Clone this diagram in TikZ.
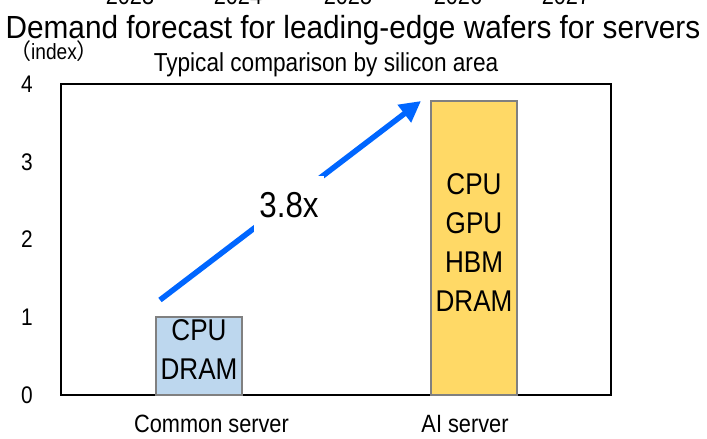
\documentclass[tikz,border=0pt]{standalone}
\usepackage{fontspec}
\setmainfont{Liberation Sans}[FakeStretch=0.87]
\newfontfamily\titlefont{Liberation Sans}[FakeStretch=0.93]
\newfontfamily\cjk{Noto Sans CJK JP}
\usetikzlibrary{arrows.meta}
\definecolor{arrowblue}{RGB}{0,102,255}
\definecolor{barblue}{RGB}{189,215,238}
\definecolor{baryellow}{RGB}{255,217,102}
\definecolor{bargray}{RGB}{128,128,128}
\begin{document}
\begin{tikzpicture}[x=1pt,y=-1pt,
  ticklabel/.style={anchor=base,font=\fontsize{24}{28}\selectfont,inner sep=0},
  catlabel/.style={anchor=base,font=\fontsize{25}{30}\selectfont,inner sep=0},
  yearlabel/.style={anchor=base,font=\fontsize{25}{30}\selectfont,inner sep=0},
  bartext/.style={align=center,font=\fontsize{30}{39}\selectfont,inner sep=0,anchor=base},
  barbox/.style={draw=bargray,line width=1.2pt}]
\useasboundingbox (0,0) rectangle (707,439);
\fill[white] (0,0) rectangle (707,439);
\begin{scope}
\clip (0,0) rectangle (707,439);
\foreach \yr/\xx in {2023/130,2024/238,2025/348,2026/458,2027/566}
  \node[yearlabel] (y\yr) at (\xx,4.5) {\yr};
\end{scope}
% title
\node[anchor=base,font=\titlefont\fontsize{32}{38}\selectfont,inner sep=0] (title) at (353,38) {Demand forecast for leading-edge wafers for servers};
\node[anchor=base,font=\fontsize{26}{31}\selectfont,inner sep=0] (sub) at (326,71) {Typical comparison by silicon area};
\node[anchor=base,font=\fontsize{22}{26}\selectfont,inner sep=0] (idx) at (54,59) {{\cjk （}index{\cjk ）}};
% frame
\draw[line width=1.6pt] (61,84) rectangle (611,395);
% ticks
\foreach \v in {0,1,2,3,4}
  \node[ticklabel] (t\v) at (27,{395-77.75*\v+8.4}) {\v};
% bars
\draw[barbox,fill=barblue] (156,395) rectangle (242,317);
\draw[barbox,fill=baryellow] (431,395) rectangle (517,101);
\node[bartext] (b1) at (199,379) {CPU\\DRAM};
\node[bartext] (b2) at (474,311) {CPU\\GPU\\HBM\\DRAM};
% categories
\node[catlabel] (c1) at (211.5,432) {Common server};
\node[catlabel] (c2) at (465,432) {AI server};
% arrow
\coordinate (as) at (160,300);
\coordinate (ae) at (421,101);
\draw[arrowblue,line width=5.5pt,-{Triangle[length=21pt,width=21pt]}] (as) -- (ae);
\node[anchor=base,fill=white,font=\fontsize{36}{40}\selectfont,text height=26pt,text depth=0pt,inner xsep=5.5pt,inner ysep=15.5pt] (lbl) at (289,217) {3.8x};
\end{tikzpicture}
\end{document}
